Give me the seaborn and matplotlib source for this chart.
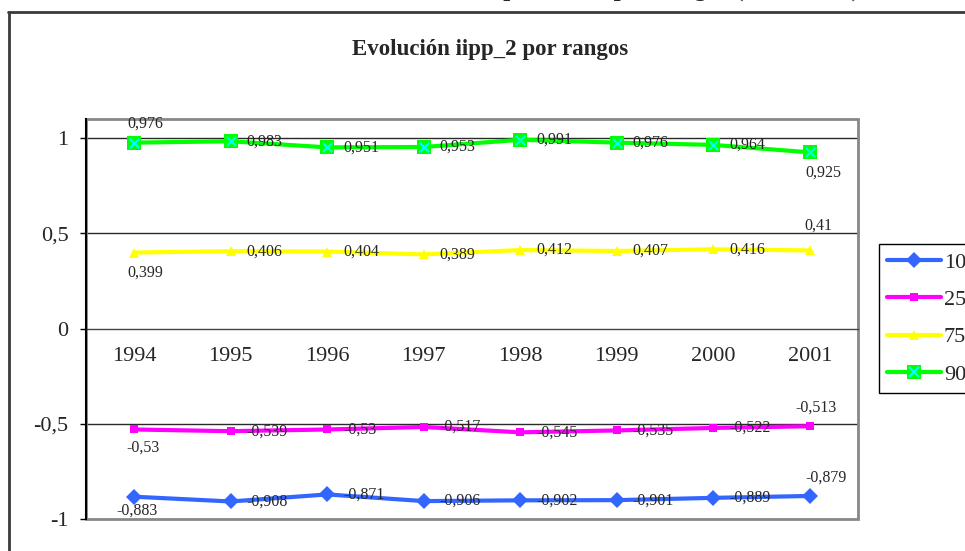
import numpy as np
import pandas as pd
import matplotlib.pyplot as plt
import seaborn as sns
from matplotlib.lines import Line2D
from matplotlib.patches import Rectangle
from matplotlib.legend_handler import HandlerTuple

# data
years = ["1994", "1995", "1996", "1997", "1998", "1999", "2000", "2001"]
rango_10 = [-0.883, -0.908, -0.871, -0.906, -0.902, -0.901, -0.889, -0.879]
rango_25 = [-0.53, -0.539, -0.53, -0.517, -0.545, -0.535, -0.522, -0.513]
rango_75 = [0.399, 0.406, 0.404, 0.389, 0.412, 0.407, 0.416, 0.41]
rango_90 = [0.976, 0.983, 0.951, 0.953, 0.991, 0.976, 0.964, 0.925]
rangos = ["10", "25", "75", "90"]
y_ticks = [-1, -0.5, 0, 0.5, 1]
y_tick_labels = ["-1", "-0,5", "0", "0,5", "1"]

title = "Evolución iipp_2 por rangos"
top_title = "Evolución de la pendiente por rangos (1994-2001)"


def coma(v):
    return f"{v:g}".replace(".", ",")


sns.set_style("white")
plt.rcParams["font.family"] = ["Liberation Serif", "DejaVu Serif"]

fig = plt.figure(figsize=(9.65, 5.51), dpi=100)
ax = fig.add_axes([86 / 965, 1 - 519 / 551, 772 / 965, 400 / 551])

# outer chart frame (partly cut by the picture)
fig.add_artist(Line2D([8 / 965, 1], [1 - 12 / 551] * 2, transform=fig.transFigure,
                      color="#3a3a3a", lw=2))
fig.add_artist(Line2D([9 / 965] * 2, [0, 1 - 12 / 551], transform=fig.transFigure,
                      color="#3a3a3a", lw=2))
fig.text(860 / 965, 1 + 4 / 551, top_title, ha="right", va="baseline",
         fontsize=18, fontweight="bold")
fig.text(490 / 965, 1 - 50 / 551, title, ha="center", va="center",
         fontsize=16.5, fontweight="bold")

pos = np.arange(len(years))
series = {"10": rango_10, "25": rango_25, "75": rango_75, "90": rango_90}
styles = {
    "10": dict(color="#3366FF", marker="D", markersize=8),
    "25": dict(color="#FF00FF", marker="s", markersize=5.5),
    "75": dict(color="#FFFF00", marker="^", markersize=7),
    "90": dict(color="#00FF00", marker="s", markersize=9.5),
}
# (dx, dy) in pixels for first and last label
ends = {
    "10": ((3, -14), (16, 18)),
    "25": ((9, -18), (6, 19)),
    "75": ((11, -20), (9, 25)),
    "90": ((11, 19), (14, -20)),
}

for key in rangos:
    vals = series[key]
    sns.lineplot(x=pos, y=vals, ax=ax, linewidth=3, markeredgewidth=0,
                 zorder=3, **styles[key])
    for i, v in enumerate(vals):
        if i == 0 or i == len(vals) - 1:
            dx, dy = ends[key][0 if i == 0 else 1]
            ha = "center"
        else:
            dx, dy, ha = 16, 0, "left"
        ax.annotate(coma(v), (pos[i], v), xytext=(dx, dy),
                    textcoords="offset pixels", ha=ha, va="center",
                    fontsize=11.5, zorder=5)

sns.scatterplot(x=pos, y=rango_90, ax=ax, marker="x", color="#00FFFF",
                s=45, linewidth=1.6, zorder=4)

# gridlines and plot-area border
for y in [1, 0.5, -0.5]:
    ax.axhline(y, color="#2a2a2a", lw=1, zorder=1)
ax.add_patch(Rectangle((0, 0), 1, 1, transform=ax.transAxes, fill=False,
                       edgecolor="#888888", lw=2, clip_on=False, zorder=2))

ax.set_xlim(-0.5, 7.5)
ax.set_ylim(-1, 1.1)
ax.spines["top"].set_visible(False)
ax.spines["right"].set_visible(False)
ax.spines["left"].set_color("black")
ax.spines["left"].set_linewidth(1.5)
ax.spines["left"].set_zorder(6)
ax.spines["bottom"].set_position(("data", 0))
ax.spines["bottom"].set_color("#444444")
ax.spines["bottom"].set_linewidth(1)

ax.set_xticks(np.arange(-0.5, 8, 1))
ax.set_xticklabels([])
ax.set_xticks(pos, minor=True)
ax.set_xticklabels(years, minor=True)
ax.tick_params(axis="x", which="major", direction="in", length=4, width=1,
               color="#444444")
ax.tick_params(axis="x", which="minor", length=0, pad=13, labelsize=16)

ax.set_yticks(y_ticks)
ax.set_yticklabels(y_tick_labels)
ax.tick_params(axis="y", direction="out", length=4.5, width=1, color="black",
               pad=8, labelsize=16, left=True)
ax.set_xlabel("")
ax.set_ylabel("")

handles = []
for key in rangos:
    h = Line2D([], [], lw=3, markeredgewidth=0, **styles[key])
    if key == "90":
        h = (h, Line2D([], [], ls="none", marker="x", color="#00FFFF",
                       markersize=6.5, markeredgewidth=1.6))
    handles.append(h)
leg = ax.legend(handles, rangos, loc="upper left", bbox_to_anchor=(1.027, 0.6875),
                fontsize=16, handlelength=2.4, handletextpad=0.15, borderpad=0.38,
                labelspacing=0.75, borderaxespad=0, fancybox=False,
                edgecolor="black", framealpha=1,
                handler_map={tuple: HandlerTuple(ndivide=1)})
leg.get_frame().set_linewidth(1)

fig.savefig("out.png", dpi=100)
